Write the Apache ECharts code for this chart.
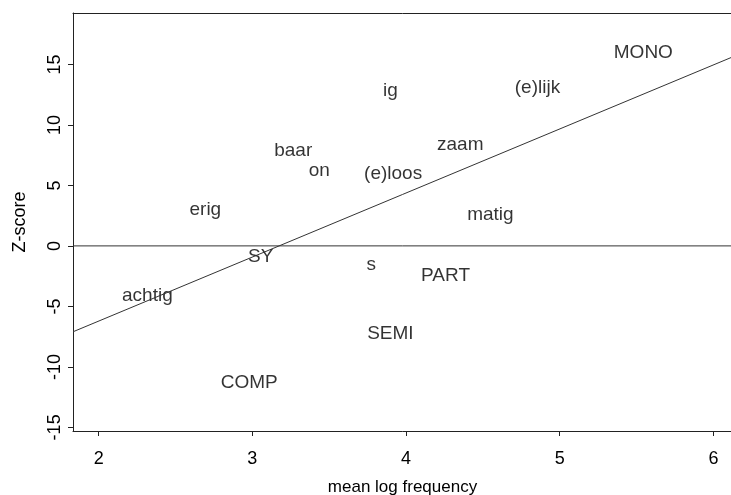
<!DOCTYPE html>
<html>
<head>
<meta charset="utf-8">
<script src="https://cdn.jsdelivr.net/npm/echarts@6/dist/echarts.min.js"></script>
<style>html,body{margin:0;padding:0;background:#fff;overflow:hidden}#c{width:731px;height:495px}</style>
</head>
<body>
<div id="c"></div>
<script>
var labels = ["MONO","(e)lijk","ig","baar","on","zaam","(e)loos","erig","matig","SY","s","PART","achtig","SEMI","COMP"];
var meanLogFreq = [5.544,4.855,3.898,3.266,3.435,4.353,3.916,2.694,4.549,3.054,3.774,4.257,2.317,3.898,2.980];
var zScore = [15.95,13.06,12.8,7.85,6.2,8.35,5.95,2.97,2.56,-0.9,-1.57,-2.48,-4.13,-7.27,-11.3];
var xTicks = [2,3,4,5,6];
var yTicks = [-15,-10,-5,0,5,10,15];
var fitX = [1.833, 6.121];
var fitY = [-7.1, 15.6];
var xRange = [1.833, 6.121];
var yRange = [-15.3, 19.25];

var chart = echarts.init(document.getElementById('c'), null, {renderer:'canvas'});
var pts = labels.map(function(l,i){return {name:l, value:[meanLogFreq[i], zScore[i]]};});
var font = 'Liberation Sans, Arial, sans-serif';
var axisLn = {show:true, onZero:false, lineStyle:{color:'#222', width:1}};
chart.setOption({
  animation:false,
  backgroundColor:'#fff',
  grid:{left:73, width:659, top:13, height:418, outerBoundsMode:'none', containLabel:false, show:false},
  xAxis:[{type:'value', min:xRange[0], max:xRange[1], splitLine:{show:false},
    axisLine:axisLn, axisTick:{show:true, inside:false, length:5, customValues:xTicks, lineStyle:{color:'#222'}},
    axisLabel:{color:'#000', fontSize:18, fontFamily:font, margin:19, customValues:xTicks},
    name:'mean log frequency', nameLocation:'middle', nameGap:48,
    nameTextStyle:{color:'#000', fontSize:17, fontFamily:font}},
   {type:'value', position:'top', min:xRange[0], max:xRange[1], splitLine:{show:false},
    axisLine:axisLn, axisTick:{show:false}, axisLabel:{show:false}}],
  yAxis:{type:'value', min:yRange[0], max:yRange[1], splitLine:{show:false},
    axisLine:axisLn, axisTick:{show:true, inside:false, length:5, customValues:yTicks, lineStyle:{color:'#222'}},
    axisLabel:{color:'#000', fontSize:18, fontFamily:font, rotate:90, margin:9, customValues:yTicks},
    name:'Z-score', nameLocation:'middle', nameGap:44, nameRotate:90,
    nameTextStyle:{color:'#000', fontSize:18, fontFamily:font}},
  series:[
    {type:'line', data:[[xRange[0],0],[xRange[1],0]], symbol:'none', lineStyle:{color:'#333', width:1}, silent:true},
    {type:'line', data:fitX.map(function(x,i){return [x, fitY[i]];}), symbol:'none', lineStyle:{color:'#333', width:1}, silent:true},
    {type:'scatter', data:pts, symbolSize:0,
      label:{show:true, position:'inside', formatter:'{b}', color:'#000', fontSize:19, fontFamily:font}}
  ]
});
</script>
</body>
</html>
